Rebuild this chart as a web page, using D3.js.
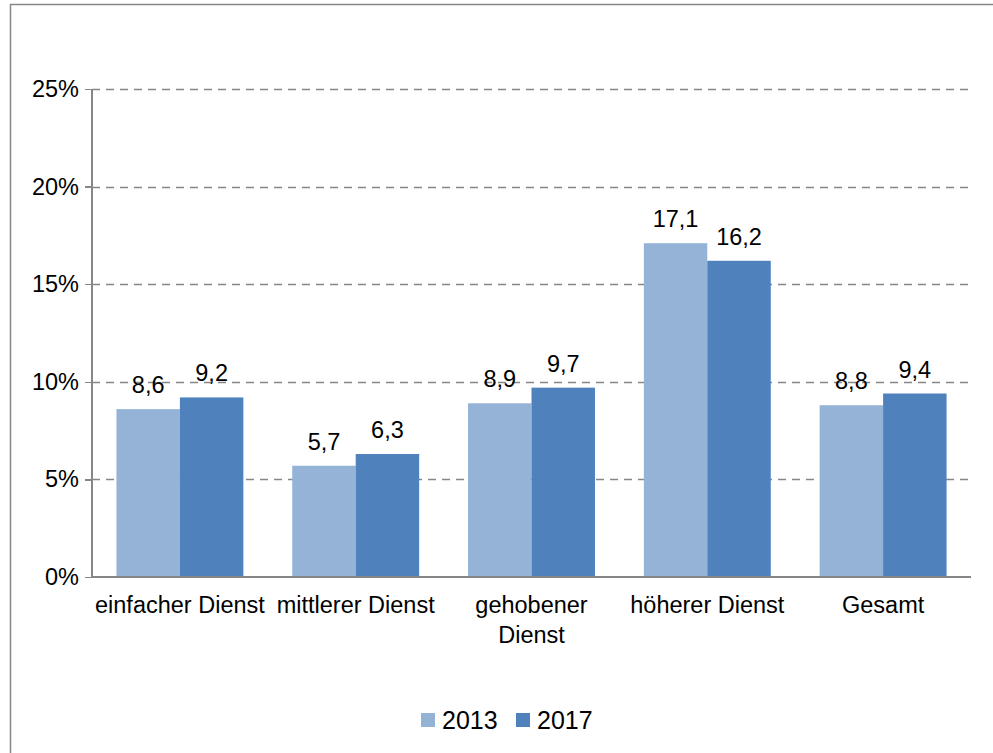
<!DOCTYPE html>
<html lang="de">
    <head>
        <meta charset="utf-8">
        <title>Bar chart</title>
        <script type="text/javascript" src="https://cdn.jsdelivr.net/npm/d3@7"></script>
        <style>
            body { margin: 0; background: white; }
            svg text { font-family: "Liberation Sans", Arial, sans-serif; fill: black; }
            .axis path, .axis line { stroke: #868686; shape-rendering: crispEdges; }
            .axis text { font-size: 23.5px; }
        </style>
    </head>
    <body>
        <script type="text/javascript">
            // data
            var categories = [["einfacher Dienst"], ["mittlerer Dienst"], ["gehobener", "Dienst"], ["höherer Dienst"], ["Gesamt"]];
            var series = ["2013", "2017"];
            var values2013 = [8.6, 5.7, 8.9, 17.1, 8.8];
            var values2017 = [9.2, 6.3, 9.7, 16.2, 9.4];
            var yTicks = [0, 5, 10, 15, 20, 25];
            var colors = ["#95b3d7", "#4f81bd"];

            var w = 993, h = 753;
            var plotLeft = 92, plotRight = 971, plotTop = 89, plotBottom = 577;

            var svg = d3.select("body").append("svg").attr("width", w).attr("height", h);

            // outer frame
            svg.append("rect")
                .attr("x", 10.5).attr("y", 4.5)
                .attr("width", w + 10).attr("height", h + 10)
                .attr("fill", "white").attr("stroke", "#868686").attr("stroke-width", 1.5);

            var xScale = d3.scaleBand()
                .domain(d3.range(categories.length))
                .range([plotLeft, plotRight])
                .paddingInner(0.278)
                .paddingOuter(0.139);
            var xSub = d3.scaleBand().domain(series).range([0, xScale.bandwidth()]);
            var yScale = d3.scaleLinear().domain([0, 25]).range([plotBottom, plotTop]);

            // gridlines
            svg.append("g").selectAll("line")
                .data(yTicks.slice(1))
                .enter().append("line")
                .attr("x1", plotLeft).attr("x2", 968)
                .attr("y1", function(d) { return Math.round(yScale(d)) + 0.5; })
                .attr("y2", function(d) { return Math.round(yScale(d)) + 0.5; })
                .attr("stroke", "#868686")
                .attr("stroke-width", 1.5)
                .attr("stroke-dasharray", "8,6");

            // bars
            var groups = svg.append("g").selectAll("g")
                .data(d3.range(categories.length))
                .enter().append("g")
                .attr("transform", function(i) { return "translate(" + xScale(i) + ",0)"; });

            var rows = function(i) {
                return [{s: "2013", v: values2013[i], c: colors[0]}, {s: "2017", v: values2017[i], c: colors[1]}];
            };

            groups.selectAll("rect")
                .data(rows)
                .enter().append("rect")
                .attr("x", function(d) { return xSub(d.s); })
                .attr("y", function(d) { return yScale(d.v); })
                .attr("width", xSub.bandwidth())
                .attr("height", function(d) { return plotBottom - yScale(d.v); })
                .attr("fill", function(d) { return d.c; });

            groups.selectAll("text")
                .data(rows)
                .enter().append("text")
                .attr("x", function(d) { return xSub(d.s) + xSub.bandwidth() / 2; })
                .attr("y", function(d) { return yScale(d.v) - 16; })
                .attr("text-anchor", "middle")
                .attr("font-size", "23.5px")
                .text(function(d) { return String(d.v).replace(".", ","); });

            // y axis
            var yAxis = d3.axisLeft(yScale).tickValues(yTicks).tickSize(7).tickPadding(6)
                .tickFormat(function(d) { return d + "%"; });
            var yG = svg.append("g").attr("class", "axis")
                .attr("transform", "translate(" + plotLeft + ",0)")
                .call(yAxis);
            yG.select(".domain").attr("d", "M0," + plotTop + "V" + plotBottom).attr("stroke-width", 1.5);
            yG.selectAll("line").attr("stroke-width", 1.5);

            // x axis
            var xG = svg.append("g").attr("class", "axis")
                .attr("transform", "translate(0," + plotBottom + ")");
            xG.append("line").attr("x1", plotLeft).attr("x2", plotRight).attr("y1", 0).attr("y2", 0)
                .attr("stroke-width", 1.5);
            var xl = xG.selectAll("text.cat")
                .data(categories)
                .enter().append("text")
                .attr("class", "cat")
                .attr("text-anchor", "middle")
                .attr("font-size", "23.5px")
                .attr("transform", function(d, i) { return "translate(" + (xScale(i) + xScale.bandwidth() / 2) + ",36)"; });
            xl.selectAll("tspan")
                .data(function(d) { return d; })
                .enter().append("tspan")
                .attr("x", 0)
                .attr("dy", function(d, j) { return j === 0 ? 0 : 30; })
                .text(function(d) { return d; });

            // legend
            var legendX = [421, 516];
            var legend = svg.append("g").selectAll("g")
                .data(series)
                .enter().append("g")
                .attr("transform", function(d, i) { return "translate(" + legendX[i] + ",713)"; });
            legend.append("rect").attr("width", 14).attr("height", 14)
                .attr("fill", function(d, i) { return colors[i]; });
            legend.append("text").attr("x", 21).attr("y", 16)
                .attr("font-size", "25px")
                .text(function(d) { return d; });
        </script>
    </body>
</html>
